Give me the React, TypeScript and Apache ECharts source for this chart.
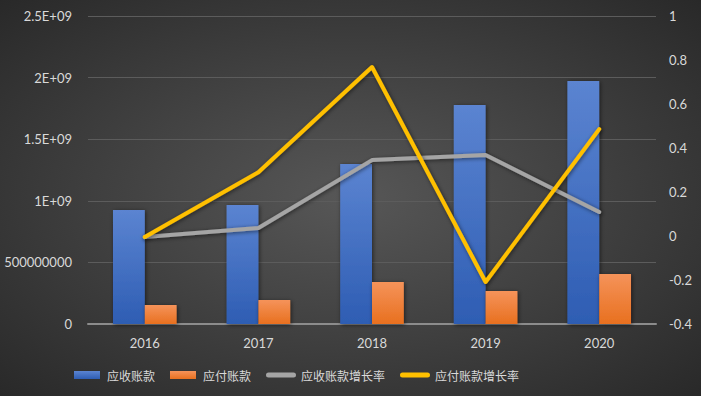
import React, { useEffect, useRef } from "react";
import * as echarts from "echarts";

const categories = ["2016", "2017", "2018", "2019", "2020"];
const receivables = [925000000, 966000000, 1299000000, 1778000000, 1972000000];
const payables = [154000000, 195000000, 341000000, 268000000, 406000000];
const receivableGrowth = [-0.005, 0.036, 0.345, 0.368, 0.109];
const payableGrowth = [-0.005, 0.29, 0.768, -0.209, 0.486];
const seriesNames = ["应收账款", "应付账款", "应收账款增长率", "应付账款增长率"];

const leftLabel = (v: number) => {
  if (v === 0) return "0";
  if (v === 500000000) return "500000000";
  const m = v / 1e9;
  return `${parseFloat(m.toFixed(1))}E+09`;
};
const rightLabel = (v: number) => `${parseFloat(v.toFixed(1))}`;

const rectIcon = "path://M0,0 L26,0 L26,8 L0,8 Z";
const lineIcon = "path://M2.5,0 L27.5,0 A2.5,2.5 0 0 1 27.5,5 L2.5,5 A2.5,2.5 0 0 1 2.5,0 Z";

export default function App() {
  const ref = useRef<HTMLDivElement>(null);
  useEffect(() => {
    if (!ref.current) return;
    const chart = echarts.init(ref.current, undefined, { renderer: "svg" });
    const labelColor = "#d9d9d9";
    const numFont = "Lato, 'Noto Sans', sans-serif";
    const shadow = { shadowBlur: 4, shadowColor: "rgba(0,0,0,0.55)", shadowOffsetX: 1, shadowOffsetY: 1 };
    chart.setOption({
      animation: false,
      backgroundColor: new echarts.graphic.RadialGradient(0.5, 0.5, 0.75, [
        { offset: 0, color: "#575757" },
        { offset: 1, color: "#262626" },
      ]),
      grid: { left: 88, right: 45, top: 16, bottom: 72 },
      legend: {
        left: 69,
        top: 364,
        itemWidth: 30,
        itemHeight: 8,
        itemGap: 15,
        symbolKeepAspect: true,
        textStyle: { color: labelColor, fontSize: 12, fontFamily: "'Noto Sans CJK SC', sans-serif" },
        data: [
          { name: seriesNames[0], icon: rectIcon },
          { name: seriesNames[1], icon: rectIcon },
          { name: seriesNames[2], icon: lineIcon },
          { name: seriesNames[3], icon: lineIcon },
        ],
      },
      xAxis: {
        type: "category",
        data: categories,
        axisLine: { lineStyle: { color: "#8c8c8c", width: 2 } },
        axisTick: { show: false },
        axisLabel: { color: labelColor, fontSize: 13, fontFamily: numFont, margin: 12 },
      },
      yAxis: [
        {
          type: "value",
          min: 0,
          max: 2500000000,
          interval: 500000000,
          axisLine: { show: false },
          axisTick: { show: false },
          splitLine: { lineStyle: { color: "#5c5c5c", width: 1 } },
          axisLabel: { color: labelColor, fontSize: 13, fontFamily: numFont, margin: 16, formatter: leftLabel },
        },
        {
          type: "value",
          min: -0.4,
          max: 1,
          interval: 0.2,
          axisLine: { show: false },
          axisTick: { show: false },
          splitLine: { show: false },
          axisLabel: { color: labelColor, fontSize: 13, fontFamily: numFont, margin: 13, formatter: rightLabel },
        },
      ],
      series: [
        {
          name: seriesNames[0],
          type: "bar",
          data: receivables,
          barGap: "0%",
          barCategoryGap: "44%",
          itemStyle: {
            color: new echarts.graphic.LinearGradient(0, 0, 0, 1, [
              { offset: 0, color: "#5b84d1" },
              { offset: 1, color: "#2e5db3" },
            ]),
            ...shadow,
          },
        },
        {
          name: seriesNames[1],
          type: "bar",
          data: payables,
          itemStyle: {
            color: new echarts.graphic.LinearGradient(0, 0, 0, 1, [
              { offset: 0, color: "#f5935a" },
              { offset: 1, color: "#e8701f" },
            ]),
            ...shadow,
          },
        },
        {
          name: seriesNames[2],
          type: "line",
          yAxisIndex: 1,
          data: receivableGrowth,
          symbol: "none",
          z: 3,
          itemStyle: { color: "#a5a5a5" },
          lineStyle: { color: "#a5a5a5", width: 4, cap: "round", join: "round", ...shadow },
        },
        {
          name: seriesNames[3],
          type: "line",
          yAxisIndex: 1,
          data: payableGrowth,
          symbol: "none",
          z: 4,
          itemStyle: { color: "#ffc000" },
          lineStyle: { color: "#ffc000", width: 4, cap: "round", join: "round", ...shadow },
        },
      ],
    });
    return () => chart.dispose();
  }, []);
  return <div ref={ref} style={{ position: "absolute", left: 0, top: 0, width: 701, height: 396 }} />;
}
